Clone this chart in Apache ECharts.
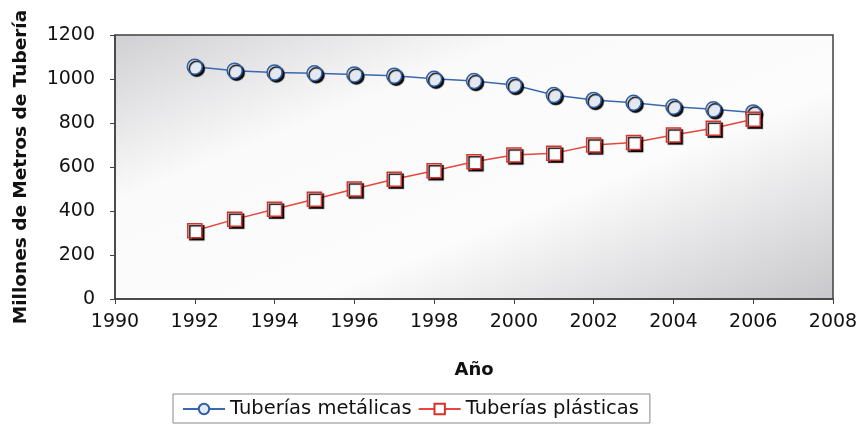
<!DOCTYPE html>
<html>
<head>
<meta charset="utf-8">
<script src="https://cdn.jsdelivr.net/npm/echarts@6/dist/echarts.min.js"></script>
<style>
html,body{margin:0;padding:0;background:#fff;}
#chart{width:861px;height:424px;}
</style>
</head>
<body>
<div id="chart"></div>
<script>
var years = [1992,1993,1994,1995,1996,1997,1998,1999,2000,2001,2002,2003,2004,2005,2006];
var metalicas = [1056,1038,1030,1026,1021,1015,1001,991,973,927,905,892,874,862,848];
var plasticas = [310,362,408,453,500,544,583,624,655,662,700,711,745,776,817];
var seriesNames = ['Tuberías metálicas','Tuberías plásticas'];
var yTitle = 'Millones de Metros de Tubería';
var xTitle = 'Año';

function pairs(xs, ys){ return xs.map(function(x,i){ return [x, ys[i]]; }); }

var font = 'DejaVu Sans, sans-serif';
var chart = echarts.init(document.getElementById('chart'));
chart.setOption({
  animation:false,
  backgroundColor:'#ffffff',
  grid:{
    left:115, top:35, right:28, bottom:125,
    show:true,
    borderColor:'#404040', borderWidth:1.5,
    backgroundColor:{type:'linear',x:115,y:35,x2:307,y2:511,global:true,colorStops:[
      {offset:0,color:'#d0d0d4'},
      {offset:0.3,color:'#fafafa'},
      {offset:0.62,color:'#fcfcfc'},
      {offset:1,color:'#c8c8cc'}
    ]}
  },
  xAxis:{
    type:'value', min:1990, max:2008, interval:2,
    name:xTitle, nameLocation:'middle', nameGap:62,
    nameTextStyle:{fontFamily:font,fontSize:18,fontWeight:'bold',color:'#111'},
    axisLine:{show:true,lineStyle:{color:'#404040',width:1.5}},
    axisTick:{show:true,length:5,lineStyle:{color:'#404040'}},
    axisLabel:{fontFamily:font,fontSize:19,color:'#111',margin:14,formatter:function(v){return String(v);}},
    splitLine:{show:false}
  },
  yAxis:{
    type:'value', min:0, max:1200, interval:200,
    name:yTitle, nameLocation:'middle', nameGap:84,
    nameTextStyle:{fontFamily:font,fontSize:18.5,fontWeight:'bold',color:'#111'},
    axisLine:{show:true,lineStyle:{color:'#404040',width:1.5}},
    axisTick:{show:true,length:5,lineStyle:{color:'#404040'}},
    axisLabel:{fontFamily:font,fontSize:19,color:'#111',margin:20,formatter:function(v){return String(v);}},
    splitLine:{show:false}
  },
  legend:{
    bottom:1, left:173,
    borderColor:'#888', borderWidth:1, borderRadius:0,
    padding:[5,11,4,9], itemWidth:42, itemHeight:13, itemGap:6,
    textStyle:{fontFamily:font,fontSize:19.5,color:'#111'},
    data:seriesNames
  },
  series:[
    {
      name:seriesNames[0], type:'line', data:pairs(years, metalicas),
      symbol:'circle', symbolSize:15,
      lineStyle:{color:'#3a68b0',width:1.5},
      itemStyle:{color:'#e4e8f0',borderColor:'#2f5fa8',borderWidth:1.5,
        shadowColor:'rgba(0,0,0,0.95)',shadowOffsetX:2,shadowOffsetY:2,shadowBlur:1}
    },
    {
      name:seriesNames[1], type:'line', data:pairs(years, plasticas),
      symbol:'rect', symbolSize:14,
      lineStyle:{color:'#e8463c',width:1.5},
      itemStyle:{color:'#ffffff',borderColor:'#d8302a',borderWidth:1.5,
        shadowColor:'rgba(0,0,0,0.95)',shadowOffsetX:2,shadowOffsetY:2,shadowBlur:1}
    }
  ]
});
</script>
</body>
</html>
